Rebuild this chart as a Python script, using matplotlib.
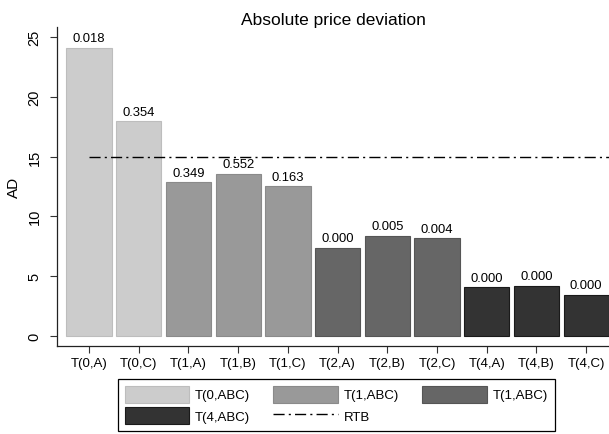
import matplotlib
matplotlib.use("Agg")
import matplotlib.pyplot as plt
import numpy as np
from matplotlib.patches import Patch
from matplotlib.lines import Line2D

plt.rcParams["font.family"] = ["Liberation Sans", "DejaVu Sans"]

# Data
categories = ["T(0,A)", "T(0,C)", "T(1,A)", "T(1,B)", "T(1,C)",
              "T(2,A)", "T(2,B)", "T(2,C)", "T(4,A)", "T(4,B)", "T(4,C)"]
ad_values = [24.1, 17.96, 12.85, 13.54, 12.51, 7.36, 8.39, 8.17, 4.07, 4.2, 3.45]
p_labels = ["0.018", "0.354", "0.349", "0.552", "0.163",
            "0.000", "0.005", "0.004", "0.000", "0.000", "0.000"]
groups = [0, 0, 1, 1, 1, 2, 2, 2, 3, 3, 3]
group_names = ["T(0,ABC)", "T(1,ABC)", "T(1,ABC)", "T(4,ABC)"]
rtb_value = 15

fill_colors = ["#cccccc", "#999999", "#666666", "#333333"]
edge_colors = ["#bdbdbd", "#8a8a8a", "#555555", "#1a1a1a"]

fig = plt.figure(figsize=(6.09, 4.35), dpi=100)
ax = fig.add_axes([57 / 609, 88 / 435, 552 / 609, 319 / 435])

x = np.arange(len(categories))
for i, (v, g) in enumerate(zip(ad_values, groups)):
    ax.bar(x[i], v, width=0.91, color=fill_colors[g], edgecolor=edge_colors[g],
           linewidth=0.8, zorder=2)
    ax.text(x[i], v + 0.3, p_labels[i], ha="center", va="bottom", fontsize=9.4)

ax.plot([x[0], x[-1] + 1], [rtb_value, rtb_value], color="black", lw=1,
        linestyle=(0, (8, 3, 1.5, 3)), zorder=3)

ax.set_xlim(-0.645, 10.46)
ax.set_ylim(-0.86, 25.85)
ax.set_xticks(x)
ax.set_xticklabels(categories, fontsize=9.5)
ax.set_yticks([0, 5, 10, 15, 20, 25])
ax.set_yticklabels(["0", "5", "10", "15", "20", "25"], rotation=90, va="center",
                   fontsize=10.5)
ax.tick_params(axis="both", direction="out", length=5, width=0.8, color="#333333")
ax.tick_params(axis="x", pad=3)
ax.tick_params(axis="y", pad=6)
ax.set_ylabel("AD", fontsize=11, labelpad=5)
ax.set_title("Absolute price deviation", fontsize=12.5, pad=1)

for side in ["top", "right"]:
    ax.spines[side].set_visible(False)
for side in ["left", "bottom"]:
    ax.spines[side].set_linewidth(0.9)
    ax.spines[side].set_color("#222222")

# legend, order chosen so columns fill row by row
h = [Patch(facecolor=fill_colors[k], edgecolor=edge_colors[k], lw=0.8) for k in range(4)]
rtb = Line2D([0], [0], color="black", lw=1, linestyle=(0, (8, 3, 1.5, 3)))
handles = [h[0], h[3], h[1], rtb, h[2]]
labels = [group_names[0], group_names[3], group_names[1], "RTB", group_names[2]]
leg = fig.legend(handles, labels, ncol=3, loc="upper left",
                 bbox_to_anchor=(118 / 609, 1 - 380 / 435), borderaxespad=0,
                 fontsize=9.5, handlelength=4.9, handleheight=1.6,
                 handletextpad=0.45, columnspacing=1.75, borderpad=0.5,
                 labelspacing=0.35, fancybox=False, edgecolor="black",
                 framealpha=1)
leg.get_frame().set_linewidth(0.9)

fig.savefig("out.png", dpi=100)
